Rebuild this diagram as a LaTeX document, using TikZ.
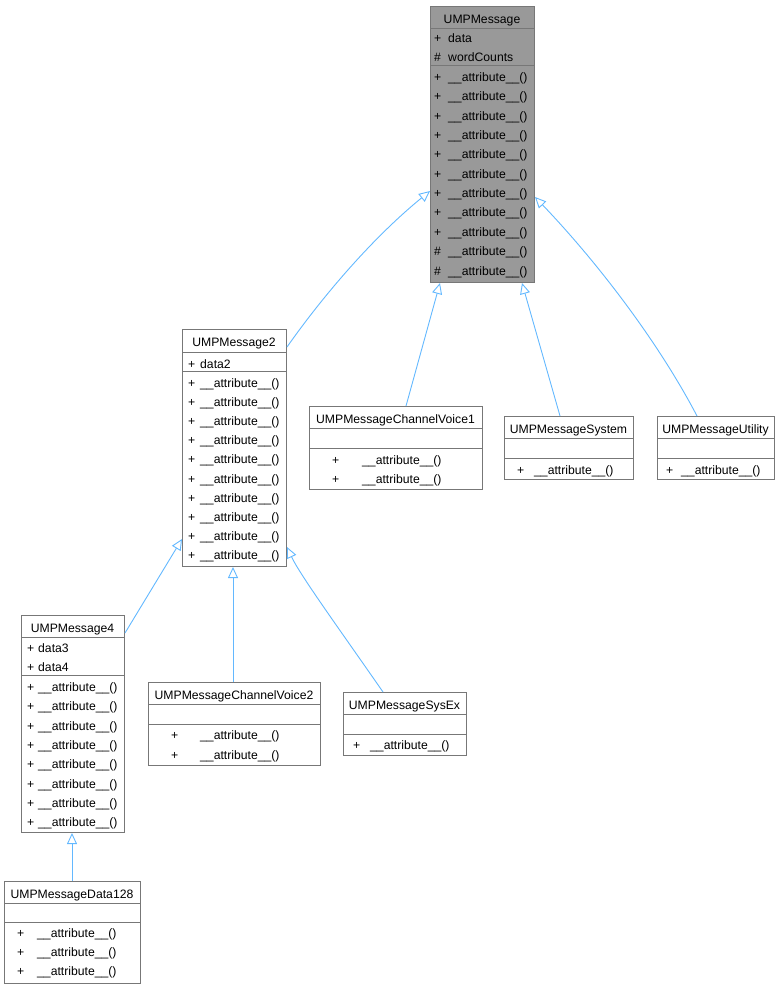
\documentclass[tikz,border=0pt]{standalone}
\usepackage{fontspec}
\setmainfont{Liberation Sans}
\usepackage{tikz}
\usetikzlibrary{arrows.meta,calc}
\definecolor{boxline}{HTML}{777777}
\definecolor{focusfill}{HTML}{999999}
\definecolor{edgeblue}{HTML}{63B8FF}

\begin{document}
\begin{tikzpicture}[x=1pt, y=-1pt,
  every node/.style={font=\fontsize{12.2}{14}\selectfont},
  classbox/.style={draw=boxline, line width=1pt, anchor=north west, inner sep=0pt},
  sep/.style={draw=boxline, line width=1pt},
  txt/.style={anchor=west, inner sep=0pt, text height=9pt, text depth=3pt, yshift=-3.5pt},
  ttl/.style={inner sep=0pt, text height=9pt, text depth=3pt, yshift=-3pt},
  inherit/.style={draw=edgeblue, line width=0.9pt, -{Triangle[open, length=11pt, width=10pt]}}]
\useasboundingbox (0,0) rectangle (780,988);

\node[classbox, fill=focusfill, minimum width=104, minimum height=276] (msg) at (430,6) {};
\draw[sep] (430,28) -- (534,28);
\draw[sep] (430,65) -- (534,65);
\node[ttl] (msg-t) at (482,17) {UMPMessage};
\node[txt] (msg-s1) at (434,36) {+};
\node[txt] (msg-a1) at (448,36) {data};
\node[txt] (msg-s2) at (434,55) {\#};
\node[txt] (msg-a2) at (448,55) {wordCounts};
\foreach \i/\s in {0/+,1/+,2/+,3/+,4/+,5/+,6/+,7/+,8/+,9/\#,10/\#}
  \node[txt] (msg-s\i) at (434,75+19.35*\i) {\s} node[txt] (msg-m\i) at (448,75+19.35*\i) {\_\_attribute\_\_()};

\node[classbox, fill=white, minimum width=104, minimum height=237] (msg2) at (182,329) {};
\draw[sep] (182,352) -- (286,352);
\draw[sep] (182,371) -- (286,371);
\node[ttl] (msg2-t) at (234,340) {UMPMessage2};
\node[txt] (msg2-s) at (188,362) {+};
\node[txt] (msg2-a) at (200,362) {data2};
\foreach \i in {0,...,9}
  \node[txt] (msg2-s\i) at (188,381+19.1*\i) {+} node[txt] (msg2-m\i) at (200,381+19.1*\i) {\_\_attribute\_\_()};

\node[classbox, minimum width=173, minimum height=83] (cv1) at (309,406) {};
\draw[sep] (309,428) -- (482,428);
\draw[sep] (309,448) -- (482,448);
\node[ttl] (cv1-t) at (395.5,417) {UMPMessageChannelVoice1};
\foreach \i in {0,1}
  \node[txt] (cv1-s\i) at (332,458+19.3*\i) {+} node[txt] (cv1-m\i) at (362,458+19.3*\i) {\_\_attribute\_\_()};

\node[classbox, minimum width=129, minimum height=63] (sys) at (504,416) {};
\draw[sep] (504,438) -- (633,438);
\draw[sep] (504,458) -- (633,458);
\node[ttl] (sys-t) at (568.5,427) {UMPMessageSystem};
\node[txt] (sys-s0) at (517,468) {+};
\node[txt] (sys-m0) at (534,468) {\_\_attribute\_\_()};

\node[classbox, minimum width=117, minimum height=63] (util) at (657,416) {};
\draw[sep] (657,438) -- (774,438);
\draw[sep] (657,458) -- (774,458);
\node[ttl] (util-t) at (715.5,427) {UMPMessageUtility};
\node[txt] (util-s0) at (666,468) {+};
\node[txt] (util-m0) at (681,468) {\_\_attribute\_\_()};

\node[classbox, minimum width=103, minimum height=217] (msg4) at (21,615) {};
\draw[sep] (21,637) -- (124,637);
\draw[sep] (21,675) -- (124,675);
\node[ttl] (msg4-t) at (72.5,626) {UMPMessage4};
\node[txt] (msg4-s1) at (27,646) {+};
\node[txt] (msg4-a1) at (38,646) {data3};
\node[txt] (msg4-s2) at (27,665) {+};
\node[txt] (msg4-a2) at (38,665) {data4};
\foreach \i in {0,...,7}
  \node[txt] (msg4-s\i) at (27,685+19.3*\i) {+} node[txt] (msg4-m\i) at (38,685+19.3*\i) {\_\_attribute\_\_()};

\node[classbox, minimum width=172, minimum height=83] (cv2) at (148,682) {};
\draw[sep] (148,704) -- (320,704);
\draw[sep] (148,724) -- (320,724);
\node[ttl] (cv2-t) at (234,693) {UMPMessageChannelVoice2};
\foreach \i in {0,1}
  \node[txt] (cv2-s\i) at (171,733+19.5*\i) {+} node[txt] (cv2-m\i) at (200,733+19.5*\i) {\_\_attribute\_\_()};

\node[classbox, minimum width=123, minimum height=63] (sysex) at (343,692) {};
\draw[sep] (343,714) -- (466,714);
\draw[sep] (343,734) -- (466,734);
\node[ttl] (sysex-t) at (404.5,703) {UMPMessageSysEx};
\node[txt] (sysex-s0) at (353,743) {+};
\node[txt] (sysex-m0) at (370,743) {\_\_attribute\_\_()};

\node[classbox, minimum width=136, minimum height=102] (d128) at (4,881) {};
\draw[sep] (4,903) -- (140,903);
\draw[sep] (4,922) -- (140,922);
\node[ttl] (d128-t) at (72,892) {UMPMessageData128};
\foreach \i in {0,1,2}
  \node[txt] (d128-s\i) at (17,931+19.2*\i) {+} node[txt] (d128-m\i) at (37,931+19.2*\i) {\_\_attribute\_\_()};

\draw[inherit] ($(msg2.north east)+(0,18)$) .. controls (320,300) and (370,240) .. ($(msg.north west)+(0,185)$);
\draw[inherit] ($(cv1.north west)+(97,0)$) -- ($(msg.south west)+(10,0)$);
\draw[inherit] ($(sys.north west)+(56,0)$) -- ($(msg.south west)+(92,0)$);
\draw[inherit] ($(util.north west)+(40,0)$) .. controls (660,345) and (600,265) .. ($(msg.north east)+(0,191)$);
\draw[inherit] ($(msg4.north east)+(0,18)$) -- ($(msg2.south west)+(0,-28)$);
\draw[inherit] ($(cv2.north west)+(85,0)$) -- ($(msg2.south west)+(51,0)$);
\draw[inherit] ($(sysex.north west)+(40,0)$) .. controls (340,630) and (300,575) .. ($(msg2.south east)+(0,-20)$);
\draw[inherit] ($(d128.north west)+(68,0)$) -- ($(msg4.south west)+(51,0)$);
\end{tikzpicture}
\end{document}
